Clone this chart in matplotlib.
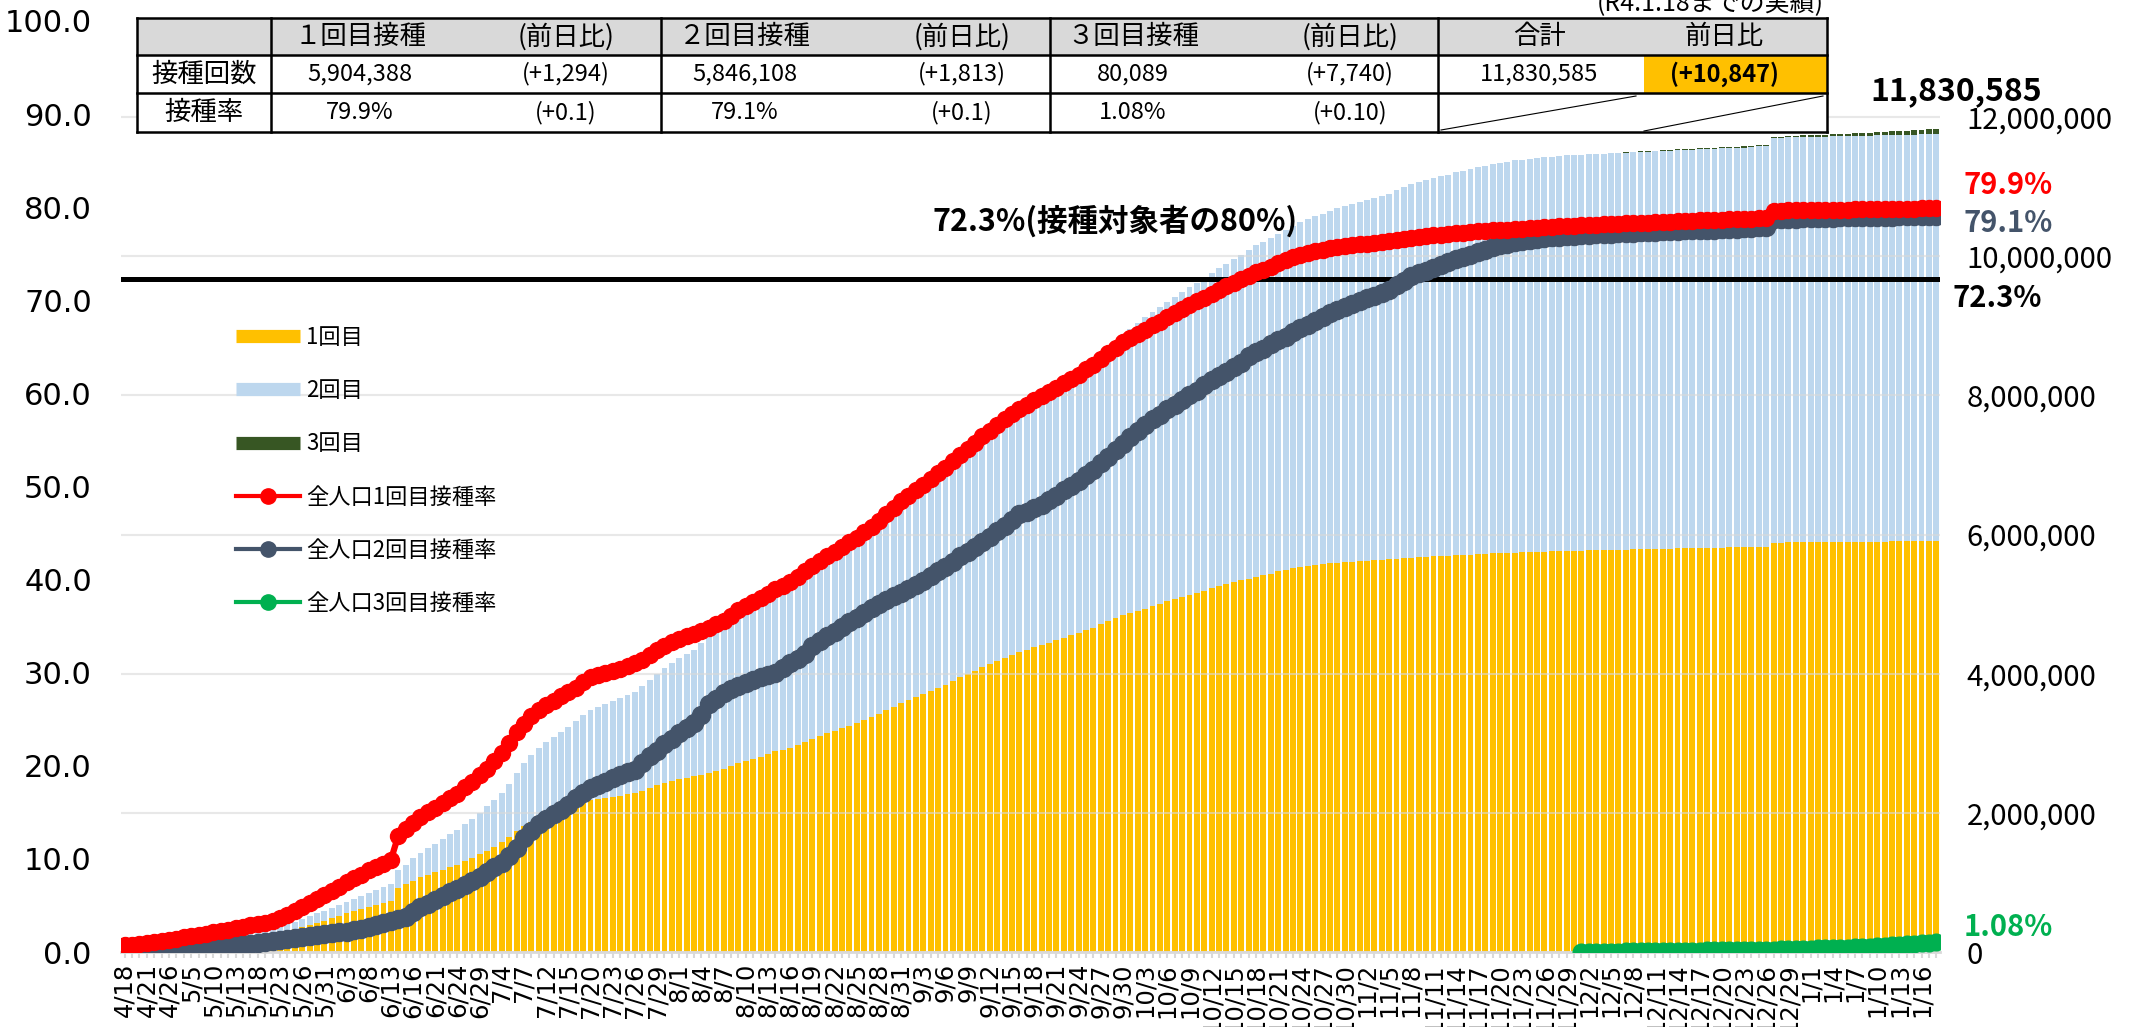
import matplotlib
matplotlib.use('Agg')
import matplotlib.pyplot as plt
from matplotlib.lines import Line2D
from matplotlib.patches import Rectangle
from matplotlib.ticker import FuncFormatter

plt.rcParams['font.family'] = ['Noto Sans CJK JP', 'DejaVu Sans']

# ---- data -------------------------------------------------------------
# a date label is shown under every third day
date_labels = ['4/18', '4/21', '4/26', '5/5', '5/10', '5/13', '5/18', '5/23', '5/26', '5/31',
               '6/3', '6/8', '6/13', '6/16', '6/21', '6/24', '6/29', '7/4', '7/7', '7/12',
               '7/15', '7/20', '7/23', '7/26', '7/29', '8/1', '8/4', '8/7', '8/10', '8/13',
               '8/16', '8/19', '8/22', '8/25', '8/28', '8/31', '9/3', '9/6', '9/9', '9/12',
               '9/15', '9/18', '9/21', '9/24', '9/27', '9/30', '10/3', '10/6', '10/9', '10/12',
               '10/15', '10/18', '10/21', '10/24', '10/27', '10/30', '11/2', '11/5', '11/8', '11/11',
               '11/14', '11/17', '11/20', '11/23', '11/26', '11/29', '12/2', '12/5', '12/8', '12/11',
               '12/14', '12/17', '12/20', '12/23', '12/26', '12/29', '1/1', '1/4', '1/7', '1/10',
               '1/13', '1/16']

# vaccination rate of the whole population (%), one value per day
first_rate = [
    0.7, 0.8, 0.9, 1.0, 1.1, 1.2, 1.3, 1.45, 1.6, 1.7,
    1.8, 1.95, 2.1, 2.25, 2.4, 2.55, 2.7, 2.85, 3.0, 3.15,
    3.3, 3.6, 4.0, 4.4, 4.8, 5.3, 5.7, 6.1, 6.6, 7.0,
    7.5, 7.9, 8.3, 8.8, 9.1, 9.5, 9.9, 12.5, 13.2, 13.9,
    14.5, 15.0, 15.5, 16.0, 16.5, 17.0, 17.7, 18.3, 19.0, 19.7,
    20.5, 21.4, 22.4, 23.6, 24.5, 25.3, 26.0, 26.5, 27.0, 27.5,
    27.9, 28.4, 29.0, 29.5, 29.8, 30.0, 30.2, 30.4, 30.7, 31.0,
    31.4, 31.9, 32.4, 32.9, 33.3, 33.6, 33.9, 34.2, 34.5, 34.8,
    35.2, 35.6, 36.1, 36.7, 37.2, 37.6, 38.0, 38.5, 39.0, 39.3,
    39.7, 40.3, 40.9, 41.5, 42.0, 42.5, 43.0, 43.5, 44.0, 44.5,
    45.1, 45.7, 46.3, 47.0, 47.7, 48.4, 49.0, 49.6, 50.2, 50.8,
    51.4, 52.0, 52.7, 53.4, 54.0, 54.7, 55.4, 56.0, 56.6, 57.2,
    57.8, 58.3, 58.8, 59.3, 59.7, 60.1, 60.6, 61.1, 61.6, 62.0,
    62.6, 63.1, 63.7, 64.3, 64.9, 65.5, 65.9, 66.4, 66.8, 67.3,
    67.7, 68.2, 68.6, 69.1, 69.5, 69.9, 70.3, 70.7, 71.1, 71.5,
    71.9, 72.3, 72.6, 73.0, 73.3, 73.6, 74.0, 74.3, 74.6, 74.9,
    75.1, 75.3, 75.4, 75.6, 75.7, 75.8, 75.9, 76.0, 76.1, 76.2,
    76.3, 76.4, 76.5, 76.6, 76.7, 76.8, 76.9, 77.0, 77.05, 77.1,
    77.2, 77.25, 77.3, 77.4, 77.45, 77.5, 77.55, 77.6, 77.65, 77.7,
    77.75, 77.8, 77.85, 77.9, 77.95, 78.0, 78.0, 78.05, 78.1, 78.1,
    78.15, 78.2, 78.2, 78.25, 78.3, 78.3, 78.35, 78.4, 78.4, 78.45,
    78.5, 78.5, 78.55, 78.6, 78.6, 78.6, 78.65, 78.7, 78.7, 78.7,
    78.75, 78.8, 78.8, 79.6, 79.6, 79.65, 79.65, 79.7, 79.7, 79.7,
    79.7, 79.75, 79.75, 79.75, 79.8, 79.8, 79.8, 79.8, 79.8, 79.85,
    79.85, 79.85, 79.85, 79.9, 79.9, 79.9,
]

second_rate = [
    0.3, 0.3, 0.3, 0.35, 0.35, 0.4, 0.4, 0.45, 0.45, 0.5,
    0.55, 0.6, 0.65, 0.7, 0.75, 0.8, 0.85, 0.9, 1.0, 1.1,
    1.2, 1.3, 1.4, 1.5, 1.6, 1.7, 1.8, 1.9, 2.0, 2.1,
    2.2, 2.35, 2.5, 2.7, 2.9, 3.1, 3.3, 3.5, 3.8, 4.3,
    4.8, 5.2, 5.6, 6.0, 6.4, 6.8, 7.2, 7.6, 8.1, 8.6,
    9.1, 9.6, 10.3, 11.2, 12.2, 13.0, 13.7, 14.3, 14.8, 15.2,
    15.8, 16.5, 17.1, 17.6, 17.9, 18.3, 18.7, 19.0, 19.3, 19.6,
    20.3, 21.0, 21.6, 22.3, 22.9, 23.5, 24.1, 24.6, 25.5, 26.6,
    27.2, 27.8, 28.2, 28.6, 28.9, 29.2, 29.5, 29.8, 30.0, 30.5,
    31.0, 31.5, 32.0, 32.9, 33.4, 33.9, 34.4, 34.9, 35.4, 35.9,
    36.4, 36.9, 37.4, 37.8, 38.2, 38.6, 39.0, 39.4, 39.9, 40.4,
    40.9, 41.4, 41.9, 42.5, 43.0, 43.5, 44.0, 44.6, 45.2, 45.8,
    46.4, 47.0, 47.3, 47.7, 48.0, 48.5, 49.0, 49.6, 50.1, 50.6,
    51.2, 51.8, 52.5, 53.2, 53.9, 54.6, 55.3, 56.0, 56.6, 57.2,
    57.7, 58.3, 58.8, 59.3, 59.8, 60.3, 60.9, 61.4, 61.9, 62.3,
    62.8, 63.3, 64.0, 64.4, 64.8, 65.3, 65.7, 66.1, 66.6, 67.0,
    67.4, 67.8, 68.2, 68.6, 69.0, 69.3, 69.6, 69.9, 70.2, 70.5,
    70.8, 71.1, 71.6, 72.1, 72.6, 72.9, 73.2, 73.5, 73.8, 74.1,
    74.4, 74.7, 74.9, 75.2, 75.4, 75.7, 75.9, 76.1, 76.3, 76.4,
    76.5, 76.6, 76.7, 76.8, 76.85, 76.9, 76.95, 77.0, 77.05, 77.1,
    77.1, 77.15, 77.2, 77.2, 77.25, 77.3, 77.3, 77.35, 77.4, 77.4,
    77.45, 77.5, 77.5, 77.55, 77.6, 77.6, 77.65, 77.7, 77.7, 77.75,
    77.8, 77.85, 77.9, 78.7, 78.7, 78.75, 78.75, 78.8, 78.8, 78.8,
    78.85, 78.85, 78.9, 78.9, 78.9, 78.95, 78.95, 79.0, 79.0, 79.0,
    79.05, 79.05, 79.05, 79.1, 79.1, 79.1,
]

# third dose started on 12/1
third_rate = [
    0.01, 0.02, 0.02, 0.03, 0.04, 0.05, 0.06, 0.07, 0.08, 0.09,
    0.10, 0.11, 0.12, 0.13, 0.14, 0.15, 0.16, 0.17, 0.18, 0.19,
    0.20, 0.21, 0.22, 0.23, 0.24, 0.25, 0.26, 0.28, 0.30, 0.32,
    0.34, 0.36, 0.38, 0.40, 0.42, 0.45, 0.48, 0.51, 0.55, 0.59,
    0.63, 0.68, 0.73, 0.78, 0.84, 0.90, 0.95, 0.98, 1.08,
]

population = 7_390_000
target_rate = 72.3

table_header = ['', '１回目接種', '(前日比)', '２回目接種', '(前日比)', '３回目接種', '(前日比)', '合計', '前日比']
table_counts = ['接種回数', '5,904,388', '(+1,294)', '5,846,108', '(+1,813)', '80,089', '(+7,740)', '11,830,585', '(+10,847)']
table_rates = ['接種率', '79.9%', '(+0.1)', '79.1%', '(+0.1)', '1.08%', '(+0.10)', '', '']

YELLOW = '#FFC000'
BLUE = '#BDD7EE'
DKGREEN = '#375623'
RED = '#FF0000'
SLATE = '#44546A'
GREEN = '#00B050'

# ---- derived counts ----------------------------------------------------
n_days = len(first_rate)
x = list(range(n_days))
third_start = n_days - len(third_rate)
x3 = x[third_start:]

first_count = [r * population / 100 for r in first_rate]
second_count = [r * population / 100 for r in second_rate]
third_count = [r * population / 100 for r in third_rate]
base3 = [first_count[i] + second_count[i] for i in x3]
total_last = base3[-1] + third_count[-1]

# ---- figure ------------------------------------------------------------
W, H = 2154, 1027
fig = plt.figure(figsize=(W / 100, H / 100), dpi=100)
ax = fig.add_axes([121 / W, 1 - 952 / H, 1819 / W, 931 / H])

ax.bar(x, first_count, width=0.8, color=YELLOW, linewidth=0)
ax.bar(x, second_count, width=0.8, bottom=first_count, color=BLUE, linewidth=0)
ax.bar(x3, third_count, width=0.8, bottom=base3, color=DKGREEN, linewidth=0)

ax.set_xlim(-0.5, n_days - 0.5)
ax.set_ylim(0, 13_380_000)
ax.set_yticks(range(0, 12_000_001, 2_000_000))
ax.yaxis.set_major_formatter(FuncFormatter(lambda v, p: f'{v:,.0f}'))
ax.set_axisbelow(False)
ax.yaxis.grid(True, color='#D9D9D9', linewidth=1.5, alpha=0.6)

ax.set_xticks(x)
ax.set_xticklabels([date_labels[i // 3] if i % 3 == 0 else '' for i in x],
                   rotation=90, fontsize=17.5, family='DejaVu Sans')
ax.tick_params(axis='x', length=4, width=1.5, color='#D9D9D9', pad=4)
for s in ['top', 'left', 'right']:
    ax.spines[s].set_visible(False)
ax.spines['bottom'].set_color('#D9D9D9')
ax.spines['bottom'].set_linewidth(2)

ax.annotate(table_counts[7], xy=(x[-1], total_last), xytext=(14, 27), textcoords='offset points',
            ha='center', va='center', fontsize=23, fontweight='semibold')

# percentage axis on the left
ax2 = ax.twinx()
ax2.yaxis.tick_left()
ax.yaxis.tick_right()
ax.tick_params(axis='y', length=0, pad=19, labelsize=21)
ax2.set_ylim(0, 100)
ax2.set_yticks(range(0, 101, 10))
ax2.yaxis.set_major_formatter(FuncFormatter(lambda v, p: f'{v:.1f}'))
ax2.tick_params(axis='y', length=0, pad=21, labelsize=22)
for lab in ax2.get_yticklabels():
    lab.set_family('DejaVu Sans')
for s in ax2.spines.values():
    s.set_visible(False)

ax2.axhline(target_rate, color='black', linewidth=3.6, zorder=2)
ax2.plot(x, first_rate, color=RED, lw=4.5, marker='o', ms=11.5, zorder=4)
ax2.plot(x, second_rate, color=SLATE, lw=4.5, marker='o', ms=13, zorder=3)
ax2.plot(x3, third_rate, color=GREEN, lw=4.5, marker='o', ms=12, zorder=4)

ax2.text(134, 78.5, f'{target_rate}%(接種対象者の80%)', ha='center', va='center',
         fontsize=22, fontweight='bold')

side = ('axes fraction', 'data')
ax2.annotate(f'{target_rate}%', xy=(1, target_rate), xycoords=side, xytext=(9, -14),
             textcoords='offset points', ha='left', va='center', fontsize=21, fontweight='bold')
ax2.annotate(table_rates[1], xy=(1, first_rate[-1]), xycoords=side, xytext=(17, 16.5),
             textcoords='offset points', ha='left', va='center', fontsize=21,
             fontweight='bold', color=RED)
ax2.annotate(table_rates[3], xy=(1, second_rate[-1]), xycoords=side, xytext=(17, -5.5),
             textcoords='offset points', ha='left', va='center', fontsize=21,
             fontweight='bold', color=SLATE)
ax2.annotate(table_rates[5], xy=(1, third_rate[-1]), xycoords=side, xytext=(17, 11),
             textcoords='offset points', ha='left', va='center', fontsize=21,
             fontweight='bold', color=GREEN)

handles = [
    Line2D([], [], color=YELLOW, lw=9.5, solid_capstyle='butt'),
    Line2D([], [], color=BLUE, lw=9.5, solid_capstyle='butt'),
    Line2D([], [], color=DKGREEN, lw=9.5, solid_capstyle='butt'),
    Line2D([], [], color=RED, lw=3, marker='o', ms=11),
    Line2D([], [], color=SLATE, lw=3, marker='o', ms=11),
    Line2D([], [], color=GREEN, lw=3, marker='o', ms=11),
]
labels = ['1回目', '2回目', '3回目', '全人口1回目接種率', '全人口2回目接種率', '全人口3回目接種率']
ax2.legend(handles, labels, loc='upper left', bbox_to_anchor=(236 / W, 1 - 326 / H),
           bbox_transform=fig.transFigure, frameon=False, fontsize=16,
           handlelength=2.9, handletextpad=0.25, labelspacing=1.36,
           borderpad=0, borderaxespad=0)

# ---- summary table at the top ----------------------------------------
tab = fig.add_axes([0, 0, 1, 1])
tab.set_xlim(0, W)
tab.set_ylim(H, 0)
tab.axis('off')

col_edges = [137, 271, 661, 1050, 1438, 1827]
row_edges = [18, 55, 93, 132]
text_x = [204, 360, 566, 745, 962, 1133, 1350, 1539, 1724]
split_x = 1644

tab.add_patch(Rectangle((col_edges[0], row_edges[1]), col_edges[-1] - col_edges[0],
                        row_edges[3] - row_edges[1], facecolor='white', edgecolor='none'))
tab.add_patch(Rectangle((col_edges[0], row_edges[0]), col_edges[-1] - col_edges[0],
                        row_edges[1] - row_edges[0], facecolor='#D9D9D9', edgecolor='none'))
tab.add_patch(Rectangle((split_x, row_edges[1]), col_edges[-1] - split_x,
                        row_edges[2] - row_edges[1], facecolor=YELLOW, edgecolor='none'))
for cx in col_edges:
    tab.plot([cx, cx], [row_edges[0], row_edges[-1]], color='black', lw=1.8)
for cy in row_edges:
    tab.plot([col_edges[0], col_edges[-1]], [cy, cy], color='black', lw=1.8)
tab.plot([col_edges[4] + 3, split_x - 8], [row_edges[3] - 2, row_edges[2] + 3], color='black', lw=0.8)
tab.plot([split_x, col_edges[5] - 4], [row_edges[3] - 1, row_edges[2] + 3], color='black', lw=0.8)


def has_kanji(s):
    return any(ord(c) > 0x3000 for c in s)


for row, r in zip([table_header, table_counts, table_rates], range(3)):
    yc = (row_edges[r] + row_edges[r + 1]) / 2
    for tx, s in zip(text_x, row):
        weight = 'bold' if (r == 1 and s == table_counts[8]) else 'normal'
        size = 19 if has_kanji(s) else 17
        tab.text(tx, yc, s, ha='center', va='center', fontsize=size, fontweight=weight)

tab.text(1710, 4, '(R4.1.18までの実績)', ha='center', va='center', fontsize=18)

fig.savefig('out.png', dpi=100)
